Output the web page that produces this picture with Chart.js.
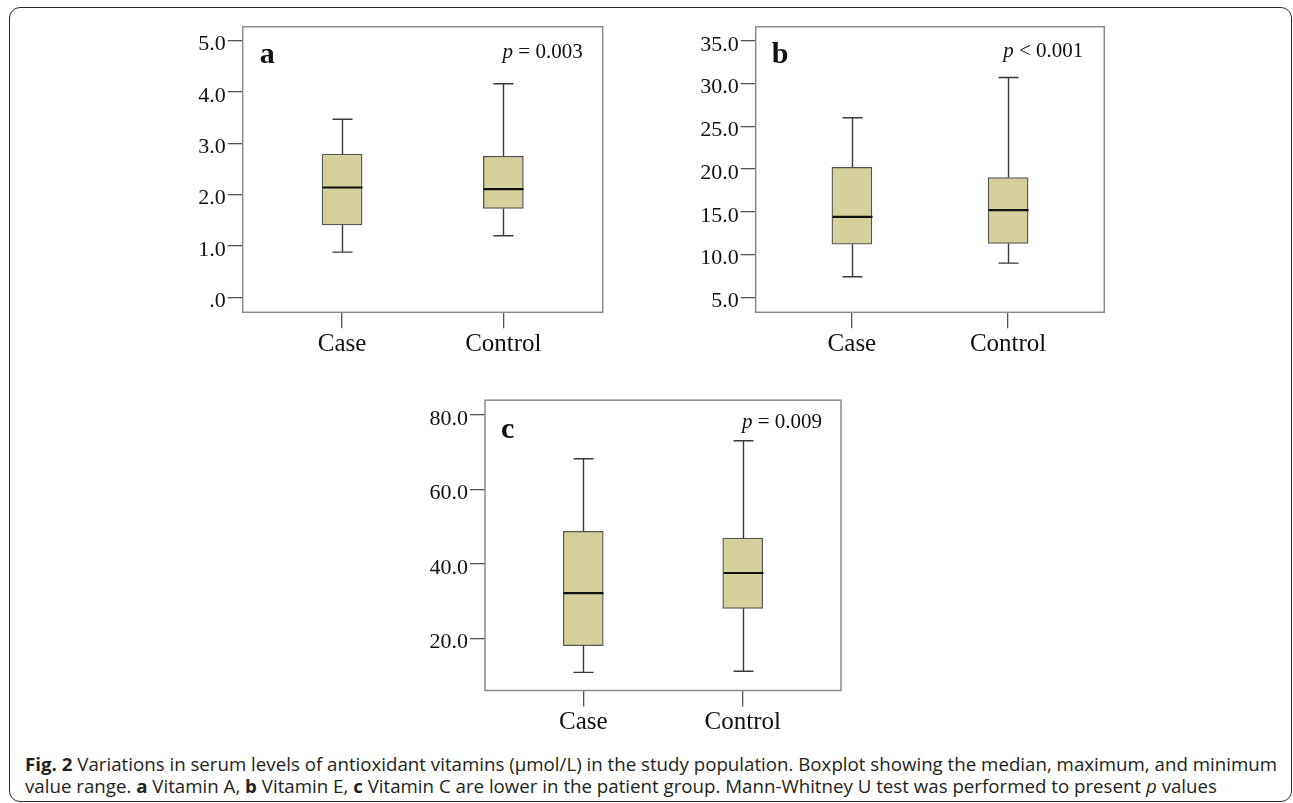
<!DOCTYPE html>
<html>
<head>
<meta charset="utf-8">
<script src="https://cdn.jsdelivr.net/npm/chart.js@4.4.1/dist/chart.umd.min.js"></script>
<style>
html,body{margin:0;padding:0;background:#fff;overflow:hidden;width:1293px;height:803px;}
.frame{position:absolute;left:9px;top:7px;width:1283px;height:795px;box-sizing:border-box;border:1.6px solid #2a2a2a;border-radius:11px;}
canvas.cv{position:absolute;}
.cap{position:absolute;left:25px;font-family:'Open Sans',sans-serif;font-size:18px;line-height:22px;color:#231f20;white-space:nowrap;transform-origin:0 0;}
.cap b{font-weight:700;}
</style>
</head>
<body>
<div class="frame"></div>
<canvas class="cv" id="ca" width="480" height="360" style="left:150px;top:10px"></canvas>
<canvas class="cv" id="cb" width="480" height="360" style="left:650px;top:10px"></canvas>
<canvas class="cv" id="cc" width="480" height="360" style="left:390px;top:385px"></canvas>
<div class="cap" id="cap1" style="top:753px"><b>Fig. 2</b> Variations in serum levels of antioxidant vitamins (μmol/L) in the study population. Boxplot showing the median, maximum, and minimum</div>
<div class="cap" id="cap2" style="top:775px">value range. <b>a</b> Vitamin A, <b>b</b> Vitamin E, <b>c</b> Vitamin C are lower in the patient group. Mann-Whitney U test was performed to present <i>p</i> values</div>
<script>
// ---------- data ----------
const categories = ['Case', 'Control'];

// Panel a: Vitamin A
const vitA_min    = [0.88, 1.20];
const vitA_q1     = [1.41, 1.73];
const vitA_median = [2.14, 2.11];
const vitA_q3     = [2.79, 2.75];
const vitA_max    = [3.47, 4.16];
const vitA_ticks  = [0, 1, 2, 3, 4, 5];
const vitA_tickLabels = ['.0', '1.0', '2.0', '3.0', '4.0', '5.0'];

// Panel b: Vitamin E
const vitE_min    = [7.4, 9.0];
const vitE_q1     = [11.2, 11.3];
const vitE_median = [14.4, 15.2];
const vitE_q3     = [20.2, 19.0];
const vitE_max    = [26.0, 30.7];
const vitE_ticks  = [5, 10, 15, 20, 25, 30, 35];
const vitE_tickLabels = ['5.0', '10.0', '15.0', '20.0', '25.0', '30.0', '35.0'];

// Panel c: Vitamin C
const vitC_min    = [10.9, 11.2];
const vitC_q1     = [18.1, 28.1];
const vitC_median = [32.2, 37.6];
const vitC_q3     = [48.8, 47.0];
const vitC_max    = [68.3, 73.1];
const vitC_ticks  = [20, 40, 60, 80];
const vitC_tickLabels = ['20.0', '40.0', '60.0', '80.0'];

const pLabels = [['p', ' = 0.003'], ['p', ' < 0.001'], ['p', ' = 0.009']];
const panelLetters = ['a', 'b', 'c'];

// ---------- layout ----------
const SERIF = "'Liberation Serif', 'Times New Roman', serif";
const X_H = 50;

function makeChart(canvasId, cfg) {
  const canvas = document.getElementById(canvasId);
  const cx = parseFloat(canvas.style.left), cy = parseFloat(canvas.style.top);
  const W = canvas.width, H = canvas.height;
  const f = cfg.frame;
  const yW = f.l - cx;
  const padTop = f.t - cy;
  const padRight = cx + W - f.r;
  const padBottom = cy + H - f.b - X_H;

  const boxPlugin = {
    id: 'boxWhiskers_' + canvasId,
    afterDatasetsDraw(chart) {
      const ctx = chart.ctx;
      const xs = chart.scales.x, ys = chart.scales.y;
      const meta = chart.getDatasetMeta(0);
      ctx.save();
      categories.forEach((c, i) => {
        const px = Math.round(xs.getPixelForValue(i)) + 0.5;
        const bw = meta.data[i].width;
        const capW = bw / 2;
        ctx.strokeStyle = '#3a3a3a';
        ctx.lineWidth = 1.4;
        ctx.beginPath();
        ctx.moveTo(px, ys.getPixelForValue(cfg.max[i]));
        ctx.lineTo(px, ys.getPixelForValue(cfg.q3[i]));
        ctx.moveTo(px - capW / 2, ys.getPixelForValue(cfg.max[i]));
        ctx.lineTo(px + capW / 2, ys.getPixelForValue(cfg.max[i]));
        ctx.moveTo(px, ys.getPixelForValue(cfg.q1[i]));
        ctx.lineTo(px, ys.getPixelForValue(cfg.min[i]));
        ctx.moveTo(px - capW / 2, ys.getPixelForValue(cfg.min[i]));
        ctx.lineTo(px + capW / 2, ys.getPixelForValue(cfg.min[i]));
        ctx.stroke();
        ctx.strokeStyle = '#111';
        ctx.lineWidth = 2.2;
        ctx.beginPath();
        const my = ys.getPixelForValue(cfg.median[i]);
        ctx.moveTo(px - bw / 2, my);
        ctx.lineTo(px + bw / 2, my);
        ctx.stroke();
      });
      const a = chart.chartArea;
      ctx.strokeStyle = '#8a8a8a';
      ctx.lineWidth = 1.5;
      ctx.strokeRect(a.left, a.top, a.right - a.left, a.bottom - a.top);
      // panel letter
      ctx.fillStyle = '#111';
      ctx.textBaseline = 'alphabetic';
      ctx.textAlign = 'left';
      ctx.font = 'bold 30px ' + SERIF;
      ctx.fillText(cfg.letter, a.left + cfg.letterDx, a.top + cfg.letterDy);
      // p label
      ctx.font = '21px ' + SERIF;
      const restW = ctx.measureText(cfg.p[1]).width;
      ctx.font = 'italic 21px ' + SERIF;
      const pW = ctx.measureText(cfg.p[0]).width;
      const xr = a.right - cfg.pDx;
      const by = a.top + cfg.pDy;
      ctx.fillText(cfg.p[0], xr - restW - pW, by);
      ctx.font = '21px ' + SERIF;
      ctx.fillText(cfg.p[1], xr - restW, by);
      ctx.restore();
    }
  };

  return new Chart(canvas, {
    type: 'bar',
    data: {
      datasets: [{
        data: categories.map((c, i) => ({ x: i, y: [cfg.q1[i], cfg.q3[i]] })),
        backgroundColor: '#d5d09c',
        borderColor: '#555',
        borderWidth: 1.3,
        borderSkipped: false,
        barThickness: 40
      }]
    },
    options: {
      responsive: false,
      animation: false,
      events: [],
      layout: { padding: { left: 0, top: padTop, right: padRight, bottom: padBottom } },
      plugins: { legend: { display: false }, tooltip: { enabled: false } },
      scales: {
        x: {
          type: 'linear',
          offset: false,
          min: -0.616, max: 1.616,
          afterBuildTicks: s => { s.ticks = categories.map((c, i) => ({ value: i })); },
          afterFit: s => { s.height = X_H; },
          ticks: {
            callback: v => categories[v],
            font: { family: SERIF, size: 25 },
            color: '#111',
            padding: 1,
            autoSkip: false,
            maxRotation: 0
          },
          grid: { display: true, offset: false, drawOnChartArea: false, drawTicks: true, tickLength: 16, color: '#555', lineWidth: 1.3 },
          border: { display: false }
        },
        y: {
          min: cfg.yMin, max: cfg.yMax,
          afterBuildTicks: s => { s.ticks = cfg.ticks.map(v => ({ value: v })); },
          afterFit: s => { s.width = yW; },
          ticks: {
            callback: v => cfg.tickLabels[cfg.ticks.indexOf(v)],
            font: { family: SERIF, size: 22 },
            color: '#111',
            padding: 2,
            labelOffset: 4
          },
          grid: { display: true, drawOnChartArea: false, drawTicks: true, tickLength: 15, color: '#555', lineWidth: 1.3 },
          border: { display: false }
        }
      }
    },
    plugins: [boxPlugin]
  });
}

makeChart('ca', {
  frame: { l: 242.7, t: 26.7, r: 602.7, b: 312.3 },
  yMin: -0.292, yMax: 5.273,
  ticks: vitA_ticks, tickLabels: vitA_tickLabels,
  min: vitA_min, q1: vitA_q1, median: vitA_median, q3: vitA_q3, max: vitA_max,
  letter: panelLetters[0], letterDx: 17, letterDy: 36,
  p: pLabels[0], pDx: 20, pDy: 31
});
makeChart('cb', {
  frame: { l: 755.7, t: 26.7, r: 1104.3, b: 312.3 },
  yMin: 3.246, yMax: 36.64,
  ticks: vitE_ticks, tickLabels: vitE_tickLabels,
  min: vitE_min, q1: vitE_q1, median: vitE_median, q3: vitE_q3, max: vitE_max,
  letter: panelLetters[1], letterDx: 16, letterDy: 36.6,
  p: pLabels[1], pDx: 21, pDy: 30
});
makeChart('cc', {
  frame: { l: 485, t: 399, r: 841, b: 690.5 },
  yMin: 6.04, yMax: 84.01,
  ticks: vitC_ticks, tickLabels: vitC_tickLabels,
  min: vitC_min, q1: vitC_q1, median: vitC_median, q3: vitC_q3, max: vitC_max,
  letter: panelLetters[2], letterDx: 16, letterDy: 38,
  p: pLabels[2], pDx: 19, pDy: 27.7
});

// fit caption width
(function () {
  const c1 = document.getElementById('cap1'), c2 = document.getElementById('cap2');
  const target = 1277 - 25;
  const w = c1.getBoundingClientRect().width;
  const s = target / w;
  c1.style.transform = 'scaleX(' + s + ')';
  c2.style.transform = 'scaleX(' + s + ')';
})();
</script>
</body>
</html>
